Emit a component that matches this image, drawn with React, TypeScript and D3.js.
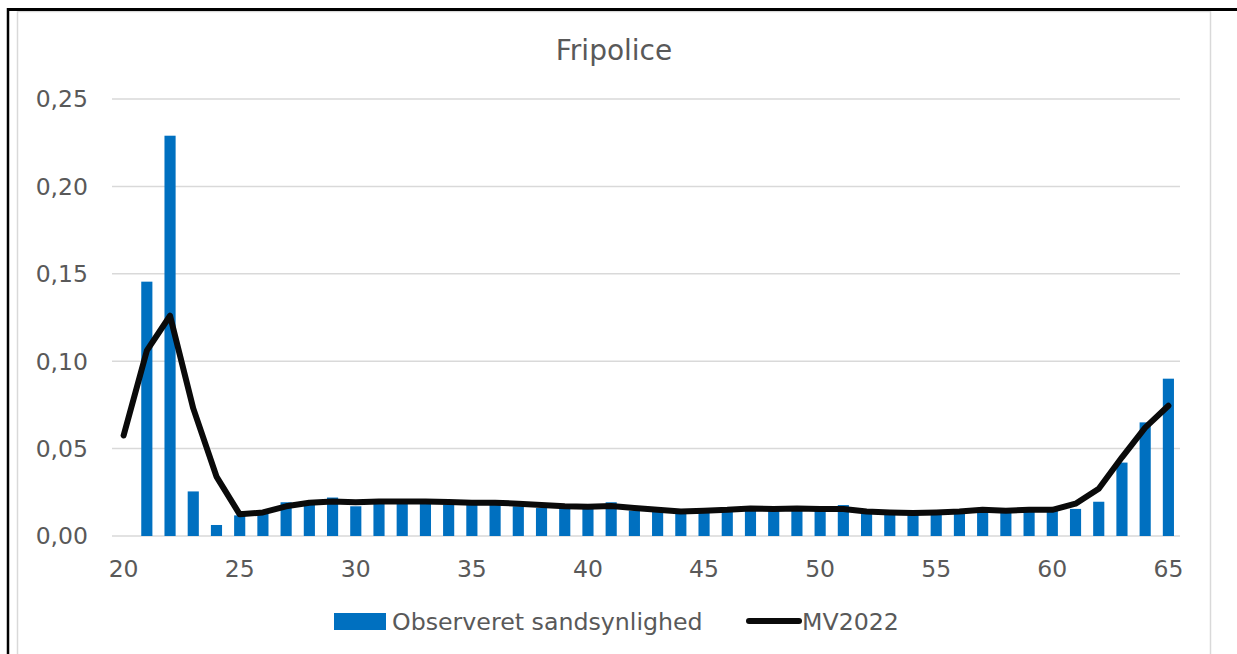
import * as d3 from 'd3';
import { FC } from 'react';

const title = 'Fripolice';
const ages = [
  20, 21, 22, 23, 24, 25, 26, 27, 28, 29, 30, 31, 32, 33, 34, 35, 36, 37, 38, 39, 40, 41, 42,
  43, 44, 45, 46, 47, 48, 49, 50, 51, 52, 53, 54, 55, 56, 57, 58, 59, 60, 61, 62, 63, 64, 65,
];
const observed: (number | null)[] = [
  null, 0.1455, 0.229, 0.0255, 0.0063, 0.0118, 0.013, 0.0193, 0.019, 0.022, 0.017, 0.019, 0.019,
  0.019, 0.018, 0.018, 0.018, 0.017, 0.016, 0.016, 0.016, 0.0193, 0.0145, 0.014, 0.013, 0.014,
  0.0145, 0.015, 0.015, 0.015, 0.015, 0.0177, 0.013, 0.013, 0.013, 0.013, 0.0135, 0.014, 0.0135,
  0.014, 0.0145, 0.0155, 0.0196, 0.042, 0.065, 0.09,
];
const mv2022 = [
  0.0575, 0.106, 0.126, 0.073, 0.034, 0.0124, 0.0135, 0.017, 0.019, 0.0198, 0.0193, 0.0198, 0.0198,
  0.0198, 0.0195, 0.019, 0.019, 0.0185, 0.0178, 0.017, 0.0168, 0.0172, 0.016, 0.015, 0.014, 0.0145,
  0.015, 0.0158, 0.0155, 0.0158, 0.0155, 0.0155, 0.014, 0.0135, 0.0132, 0.0135, 0.014, 0.015,
  0.0145, 0.015, 0.015, 0.0185, 0.027, 0.045, 0.062, 0.0745,
];
const yTicks = [0, 0.05, 0.1, 0.15, 0.2, 0.25];
const xTicks = [20, 25, 30, 35, 40, 45, 50, 55, 60, 65];
const seriesNames = ['Observeret sandsynlighed', 'MV2022'];

const W = 1237;
const H = 654;
const plot = { left: 112, right: 1180, top: 99, bottom: 536 };
const font = '"DejaVu Sans", Verdana, sans-serif';
const textColor = '#595959';
const barColor = '#0070C0';

const App: FC = () => {
  const x = d3
    .scaleBand<number>()
    .domain(ages)
    .range([plot.left, plot.right])
    .paddingInner(0)
    .paddingOuter(0);
  const bw = x.bandwidth();
  const barW = bw * 0.48;
  const y = d3.scaleLinear().domain([0, 0.25]).range([plot.bottom, plot.top]);
  const fmt = (v: number) => d3.format('.2f')(v).replace('.', ',');

  const line = d3
    .line<number>()
    .x((_d, i) => x(ages[i])! + bw / 2)
    .y((d) => y(d));

  return (
    <svg
      width={W}
      height={H}
      style={{ position: 'absolute', left: 0, top: 0, background: '#fff' }}
      fontFamily={font}
    >
      {/* outer frame */}
      <rect x={17.5} y={11.5} width={1193} height={H} fill="#fff" stroke="#d9d9d9" strokeWidth={1.5} />
      <line x1={7} y1={9.5} x2={W} y2={9.5} stroke="#000" strokeWidth={3} />
      <line x1={8} y1={8} x2={8} y2={H} stroke="#000" strokeWidth={2.5} />

      <text x={614} y={60} textAnchor="middle" fontSize={28} fill={textColor}>
        {title}
      </text>

      {yTicks.map((t) => (
        <g key={t}>
          <line x1={plot.left} x2={plot.right} y1={y(t)} y2={y(t)} stroke="#d9d9d9" strokeWidth={1.5} />
          <text x={88} y={y(t)} dy="0.36em" textAnchor="end" fontSize={23.5} fill={textColor}>
            {fmt(t)}
          </text>
        </g>
      ))}

      {xTicks.map((t) => (
        <text key={t} x={x(t)! + bw / 2} y={577} textAnchor="middle" fontSize={23.5} fill={textColor}>
          {t}
        </text>
      ))}

      {observed.map((v, i) =>
        v == null ? null : (
          <rect
            key={ages[i]}
            x={x(ages[i])! + (bw - barW) / 2}
            y={y(v)}
            width={barW}
            height={y(0) - y(v)}
            fill={barColor}
          />
        ),
      )}

      <path
        d={line(mv2022)!}
        fill="none"
        stroke="#0a0a0a"
        strokeWidth={6}
        strokeLinejoin="round"
        strokeLinecap="round"
      />

      {/* legend */}
      <rect x={334} y={613} width={52} height={17} fill={barColor} />
      <text x={392} y={621} dy="0.36em" fontSize={23.7} fill={textColor}>
        {seriesNames[0]}
      </text>
      <line x1={749} x2={799} y1={621} y2={621} stroke="#0a0a0a" strokeWidth={6} strokeLinecap="round" />
      <text x={802} y={621} dy="0.36em" fontSize={23.7} fill={textColor}>
        {seriesNames[1]}
      </text>
    </svg>
  );
};

export default App;
